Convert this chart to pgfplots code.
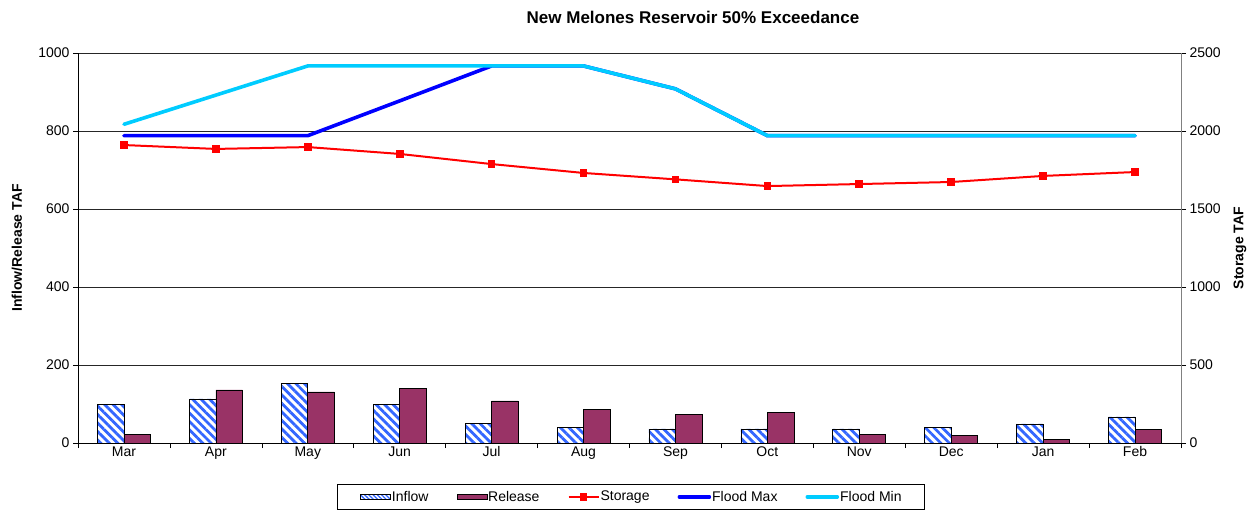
\documentclass[border=0pt]{standalone}
\usepackage{fontspec}
\setmainfont{Liberation Sans}
\usepackage{pgfplots}
\pgfplotsset{compat=1.18}
\usetikzlibrary{patterns.meta}
\definecolor{inflowblue}{HTML}{3366FF}
\definecolor{relmaroon}{HTML}{993366}
\definecolor{floodmin}{HTML}{00CCFF}
\pgfplotsset{
  barlegend/.style={legend image code/.code={\draw[##1] (0pt,-2.5pt) rectangle (30pt,2.5pt);}},
  linelegend/.style={legend image code/.code={\draw[mark repeat=2,mark phase=2,##1] plot coordinates {(0pt,0pt) (15pt,0pt) (30pt,0pt)};}},
}
\begin{document}
\begin{tikzpicture}
\useasboundingbox (0,0) rectangle (1254pt,512pt);
\pgfplotsset{
  common/.style={
    scale only axis, width=1103pt, height=390pt,
    at={(78pt,69pt)}, anchor=south west,
    xmin=-0.5, xmax=11.5,
    tick label style={font=\fontsize{14}{16}\selectfont},
    /pgf/number format/assume math mode=true,
    /pgf/number format/1000 sep={},
    tick align=outside, major tick length=5pt,
    tick style={black, line width=0.6pt},
  }
}
\begin{axis}[common,
  axis x line*=bottom, axis y line*=left,
  axis line style={black, line width=0.8pt},
  ymin=0, ymax=1000, ytick={0,200,...,1000},
  ymajorgrids, grid style={black!85, line width=0.6pt},
  xtick={-0.5,0.5,...,11.5}, xticklabels={},
  extra x ticks={0,1,2,3,4,5,6,7,8,9,10,11},
  extra x tick labels={Mar,Apr,May,Jun,Jul,Aug,Sep,Oct,Nov,Dec,Jan,Feb},
  extra x tick style={major tick length=0pt, grid=none},
  ybar=0pt, bar width=26.5pt,
  ]
\addplot[draw=black, line width=0.7pt, pattern={Lines[angle=-45,distance=6pt,line width=2.8pt]}, pattern color=inflowblue]
  coordinates {(0,100) (1,113) (2,152) (3,100) (4,51) (5,41) (6,36) (7,36) (8,36) (9,41) (10,49) (11,67)};
\addplot[draw=black, line width=0.7pt, fill=relmaroon]
  coordinates {(0,23) (1,136) (2,131) (3,141) (4,108) (5,86) (6,73) (7,78) (8,23) (9,19) (10,10) (11,34)};
\end{axis}
\begin{axis}[common,
  axis x line=none, axis y line*=right,
  y axis line style={gray, line width=0.8pt},
  ymin=0, ymax=2500, ytick={0,500,...,2500},
  legend columns=5,
  legend style={at={(0.5015,-0.138)}, anchor=center, draw=black, line width=0.6pt,
    font=\fontsize{14}{16}\selectfont, inner xsep=22pt, inner ysep=5pt,
    nodes={inner xsep=1pt, inner ysep=2pt},
    /tikz/every even column/.append style={column sep=27pt}},
  linelegend,
  ]
\addlegendimage{barlegend, draw=black, line width=0.6pt, pattern={Lines[angle=-45,distance=3pt,line width=1.3pt]}, pattern color=inflowblue}
\addlegendentry{Inflow}
\addlegendimage{barlegend, draw=black, line width=0.6pt, fill=relmaroon}
\addlegendentry{Release}
\addplot[red, line width=2pt, mark=square*, mark size=3.3pt, mark options={solid, fill=red, draw=red, line width=0pt}]
  coordinates {(0,1910) (1,1885) (2,1897) (3,1853) (4,1788) (5,1731) (6,1690) (7,1647) (8,1660) (9,1673) (10,1712) (11,1737)};
\addlegendentry{Storage}
\addplot[blue, line width=3.6pt, line cap=round, line join=round]
  coordinates {(0,1970) (1,1970) (2,1970) (3,2193) (4,2417) (5,2417) (6,2270) (7,1970) (8,1970) (9,1970) (10,1970) (11,1970)};
\addlegendentry{Flood Max}
\addplot[floodmin, line width=3.6pt, line cap=round, line join=round]
  coordinates {(0,2043) (1,2230) (2,2417) (3,2417) (4,2417) (5,2417) (6,2270) (7,1970) (8,1970) (9,1970) (10,1970) (11,1970)};
\addlegendentry{Flood Min}
\end{axis}
\node[font=\bfseries\fontsize{17}{19}\selectfont] at (693pt,495pt) {New Melones Reservoir 50\% Exceedance};
\node[rotate=90, font=\bfseries\fontsize{14}{16}\selectfont] at (17pt,264pt) {Inflow/Release TAF};
\node[rotate=90, font=\bfseries\fontsize{14}{16}\selectfont] at (1240pt,264pt) {Storage TAF};
\end{tikzpicture}
\end{document}
